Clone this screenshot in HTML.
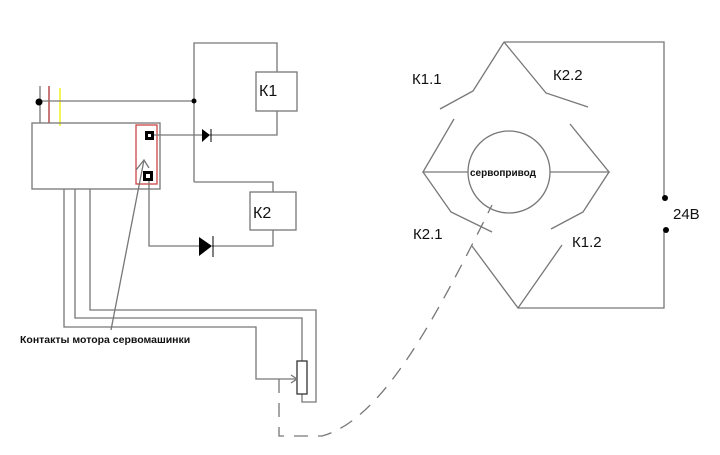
<!DOCTYPE html>
<html><head><meta charset="utf-8"><style>
html,body{margin:0;padding:0;background:#fff;}
svg{display:block}
text{font-family:"Liberation Sans","DejaVu Sans",sans-serif;}
</style></head><body>
<svg width="720" height="455" viewBox="0 0 720 455" xmlns="http://www.w3.org/2000/svg">
<g fill="none" stroke="#777" stroke-width="1.3">
<line x1="40" y1="86" x2="40" y2="123"/>
<line x1="49" y1="86" x2="49" y2="123" stroke="#a33"/>
<line x1="60" y1="88" x2="60" y2="126" stroke="#ee0"/>
<line x1="39" y1="101" x2="194" y2="101"/>
<rect x="32" y="123" width="128" height="66"/>
<rect x="136" y="125" width="21" height="59" stroke="#c44"/>
<polyline points="194,182 194,43 277,43 277,72"/>
<rect x="256" y="72" width="41" height="39"/>
<polyline points="277,111 277,135 210,135"/>
<line x1="150" y1="135" x2="202" y2="135"/>
<polyline points="194,182 273,182 273,192"/>
<rect x="250" y="192" width="46" height="38"/>
<polyline points="273,230 273,246 212,246"/>
<polyline points="200,246 149,246 149,176"/>
<polyline points="64,189 64,327 256,327 256,379 297,379"/>
<polyline points="75,189 75,318 302,318 302,361"/>
<polyline points="90,189 90,310 316,310 316,402 302,402 302,394"/>
<rect x="297" y="361" width="10" height="33" stroke="#333"/>
<polyline points="291,375 297,379 291,383"/>
<line x1="111" y1="330" x2="144" y2="160"/>
<polyline points="136,170 144,160 149,168"/>
<path d="M279,379 L279,436 L322,436 C380,420 430,330 492,205" stroke-dasharray="14,10"/>
<polyline points="664,197 664,42 504,42"/>
<polyline points="664,230 664,308 518,308"/>
<polyline points="504,42 473,91 440,109"/>
<polyline points="454,119 423,172 468,172"/>
<polyline points="504,42 546,93 588,107"/>
<polyline points="570,124 609,172 550,172"/>
<polyline points="423,172 451,212 492,232"/>
<polyline points="472,246 518,308 562,245"/>
<polyline points="609,172 583,212 551,229"/>
<circle cx="509" cy="172" r="41"/>
</g>
<circle cx="39" cy="102" r="3.5" fill="#000"/>
<circle cx="194" cy="101" r="2.5" fill="#000"/>
<circle cx="665" cy="198" r="3" fill="#000"/>
<circle cx="666" cy="230" r="3" fill="#000"/>
<rect x="145" y="131" width="9" height="9" fill="#000"/><rect x="148" y="134" width="3" height="3" fill="#fff"/>
<rect x="143" y="171" width="10" height="10" fill="#000"/><rect x="146" y="174" width="4" height="4" fill="#fff"/>
<polygon points="202,129 210,135 202,142" fill="#000"/><line x1="211" y1="129" x2="211" y2="142" stroke="#000"/>
<polygon points="199,237 212,246 199,256" fill="#000"/><line x1="213" y1="236" x2="213" y2="257" stroke="#000"/>
<text x="259" y="96" font-size="16" fill="#111">К1</text>
<text x="253" y="218" font-size="16" fill="#111">К2</text>
<text x="412" y="84" font-size="15" fill="#111">К1.1</text>
<text x="553" y="80" font-size="15" fill="#111">К2.2</text>
<text x="413" y="239" font-size="15" fill="#111">К2.1</text>
<text x="572" y="247" font-size="15" fill="#111">К1.2</text>
<text x="673" y="219" font-size="15" fill="#111">24В</text>
<text x="470" y="176" font-size="10" font-weight="bold" fill="#111">сервопривод</text>
<text x="20" y="343" font-size="10.5" font-weight="bold" fill="#111">Контакты мотора сервомашинки</text>
</svg>
</body></html>
